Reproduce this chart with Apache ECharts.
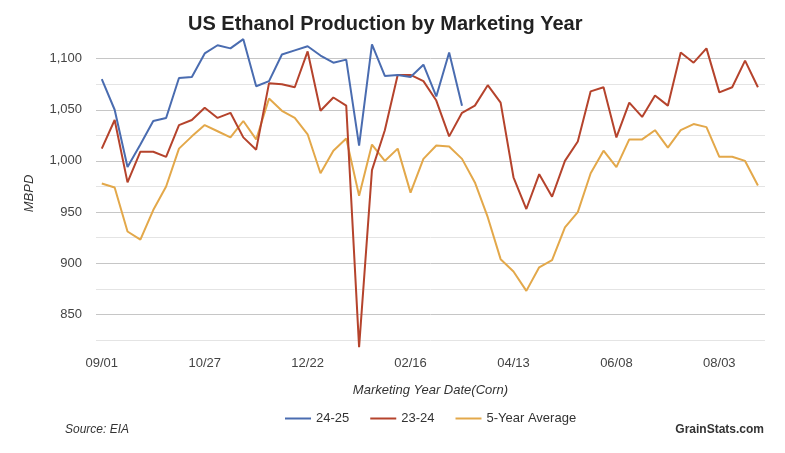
<!DOCTYPE html>
<html>
<head>
<meta charset="utf-8">
<title>US Ethanol Production by Marketing Year</title>
<script src="https://cdn.jsdelivr.net/npm/echarts@6/dist/echarts.min.js"></script>
<style>
  html, body { margin: 0; padding: 0; background: #fff; }
  #chart { width: 785px; height: 453px; }
</style>
</head>
<body>
<div id="chart"></div>
<script>
// weekly marketing-year dates (corn), starting 09/01
const weeks = [
  '09/01', '09/08', '09/15', '09/22', '09/29', '10/06', '10/13', '10/20',
  '10/27', '11/03', '11/10', '11/17', '11/24', '12/01', '12/08', '12/15',
  '12/22', '12/29', '01/05', '01/12', '01/19', '01/26', '02/02', '02/09',
  '02/16', '02/23', '03/02', '03/09', '03/16', '03/23', '03/30', '04/06',
  '04/13', '04/20', '04/27', '05/04', '05/11', '05/18', '05/25', '06/01',
  '06/08', '06/15', '06/22', '06/29', '07/06', '07/13', '07/20', '07/27',
  '08/03', '08/10', '08/17', '08/24'
]
const labelWeeks = [0, 8, 16, 24, 32, 40, 48]

const mbpd2425 = [
  1080, 1050, 994, 1016, 1039, 1042, 1081, 1082, 1105, 1113,
  1110, 1119, 1073, 1078, 1104, 1108, 1112, 1103, 1096, 1099,
  1015, 1114, 1083, 1084, 1082, 1094, 1063, 1106, 1054
]
const mbpd2324 = [
  1012, 1040, 979, 1009, 1009, 1004, 1035, 1040, 1052, 1042,
  1047, 1023, 1011, 1076, 1075, 1072, 1107, 1049, 1062, 1054,
  818, 991, 1030, 1084, 1084, 1078, 1059, 1024, 1047, 1054,
  1074, 1057, 984, 953, 987, 965, 1000, 1019, 1068, 1072,
  1023, 1057, 1043, 1064, 1054, 1106, 1096, 1110, 1067, 1072,
  1098, 1072
]
const avg5yr = [
  978, 974, 931, 923, 952, 975, 1012, 1024, 1035, 1029,
  1023, 1039, 1021, 1061, 1049, 1042, 1026, 988, 1010, 1022,
  966, 1016, 1000, 1012, 969, 1002, 1015, 1014, 1002, 979,
  945, 904, 892, 873, 896, 903, 935, 950, 988, 1010,
  994, 1021, 1021, 1030, 1013, 1030, 1036, 1033, 1004, 1004,
  1000, 976
]

const font = 'Liberation Sans, Arial, sans-serif'
const toPairs = (arr) => arr.map((v, i) => [i, v])

const myChart = echarts.init(document.getElementById('chart'))
myChart.setOption({
  animation: false,
  textStyle: { fontFamily: font },
  title: [
    {
      text: 'US Ethanol Production by Marketing Year',
      left: 183,
      top: 9,
      textStyle: { fontSize: 20, fontWeight: 'bold', color: '#222', fontFamily: font }
    },
    {
      text: 'Source: EIA',
      left: 60,
      top: 419,
      textStyle: { fontSize: 12, fontStyle: 'italic', fontWeight: 'normal', color: '#333', fontFamily: font }
    },
    {
      text: 'GrainStats.com',
      right: 16,
      top: 419,
      textStyle: { fontSize: 12, fontWeight: 'bold', color: '#333', fontFamily: font }
    }
  ],
  legend: {
    data: ['24-25', '23-24', '5-Year Average'],
    left: 280,
    top: 407,
    icon: 'rect',
    itemWidth: 26,
    itemHeight: 2,
    itemGap: 21,
    textStyle: { fontSize: 13, color: '#333', fontFamily: font }
  },
  grid: { left: 96, right: 20, top: 33, bottom: 113 },
  xAxis: {
    type: 'value',
    min: -0.45,
    max: 51.55,
    name: 'Marketing Year Date(Corn)',
    nameLocation: 'middle',
    nameGap: 44,
    nameTextStyle: { fontSize: 13, fontStyle: 'italic', color: '#333', fontFamily: font },
    axisLine: { show: false },
    axisTick: { show: false },
    splitLine: { show: false },
    axisLabel: {
      customValues: labelWeeks,
      formatter: (v) => weeks[v] || '',
      margin: 17,
      fontSize: 13,
      color: '#444',
      fontFamily: font
    }
  },
  yAxis: {
    type: 'value',
    min: 825,
    max: 1125,
    interval: 25,
    name: 'MBPD',
    nameLocation: 'middle',
    nameRotate: 90,
    nameGap: 60,
    nameTextStyle: {
      fontSize: 13,
      fontStyle: 'italic',
      color: '#333',
      fontFamily: font,
      padding: [0, 14, 0, 0]
    },
    axisLine: { show: false },
    axisTick: { show: false },
    axisLabel: {
      margin: 14,
      fontSize: 13,
      color: '#444',
      fontFamily: font,
      formatter: (v) => (v % 50 === 0 && v < 1125 ? v.toLocaleString('en-US') : '')
    },
    splitLine: {
      showMaxLine: false,
      lineStyle: { color: ['#e4e4e4', '#c6c6c6'], width: 1 }
    }
  },
  series: [
    {
      name: '24-25',
      type: 'line',
      data: toPairs(mbpd2425),
      symbol: 'none',
      clip: false,
      lineStyle: { width: 2, color: '#4a6cb0' },
      itemStyle: { color: '#4a6cb0' },
      z: 4
    },
    {
      name: '23-24',
      type: 'line',
      data: toPairs(mbpd2324),
      symbol: 'none',
      clip: false,
      lineStyle: { width: 2, color: '#b5432c' },
      itemStyle: { color: '#b5432c' },
      z: 3
    },
    {
      name: '5-Year Average',
      type: 'line',
      data: toPairs(avg5yr),
      symbol: 'none',
      clip: false,
      lineStyle: { width: 2, color: '#e3a84a' },
      itemStyle: { color: '#e3a84a' },
      z: 2
    }
  ]
})
</script>
</body>
</html>
